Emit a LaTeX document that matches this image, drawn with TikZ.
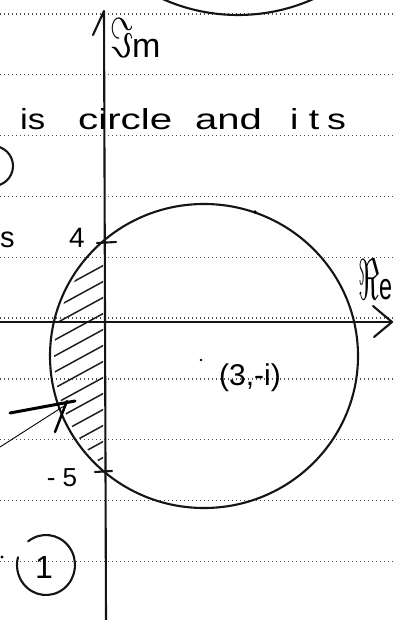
\documentclass[tikz,border=0pt]{standalone}
\usepackage{fontspec}
\setmainfont{Liberation Sans}
\usetikzlibrary{arrows.meta}
\begin{document}
\begin{tikzpicture}[x=1pt,y=-1pt,
  ink/.style={line width=2.1pt, line cap=round, line join=round, black!92},
  ruled/.style={line width=1.4pt, dash pattern=on 1.4pt off 2.6pt, black!70},
  hatch/.style={line width=1.5pt, line cap=round, black!88},
  hand/.style={inner sep=0pt, font=\fontsize{29}{30}\selectfont},
  lbl/.style={inner sep=0pt},
]
\useasboundingbox (0,0) rectangle (394,620);
\fill[white] (0,0) rectangle (394,620);
% ruled notebook lines
\foreach \k in {0,...,9} \draw[ruled] (0,{14+60.8*\k}) -- (394,{14+60.8*\k});

% partial shapes cut by the page edge
\begin{scope}
  \clip (0,0) rectangle (394,620);
  \draw[ink] (238,-170) circle[radius=185];
  \draw[ink] (-7,166) circle[radius=20];
\end{scope}

% main circle
\draw[ink] (204,356) ellipse[x radius=154, y radius=152];

% hatching
\begin{scope}
  \clip (204,356) ellipse[x radius=150, y radius=148];
  \clip (0,200) rectangle (103,500);
  \foreach \k in {0,...,12} \draw[hatch] (40,{300+16*\k}) -- (106,{264+16*\k});
\end{scope}

% axes
\coordinate (ybot) at (106,620);
\coordinate (ytop) at (104,11);
\coordinate (ybarb) at (93,35);
\draw[ink] (ybot) -- (ytop) -- (ybarb);
\coordinate (xl) at (0,322);
\coordinate (xr) at (392,322);
\coordinate (xb1) at (373,306);
\coordinate (xb2) at (374,337);
\draw[ink] (xl) -- (xr);
\draw[ink] (xb1) -- (xr) -- (xb2);

% ticks
\coordinate (t4a) at (97,243); \coordinate (t4b) at (116,242);
\coordinate (t5a) at (95,472); \coordinate (t5b) at (112,471);
\draw[ink] (t4a) -- (t4b);
\draw[ink] (t5a) -- (t5b);

% dots
\fill[black] (201,360) circle[radius=1.3];
\fill[black] (255,212) circle[radius=1.8];
\fill[black] (2,557) circle[radius=1.6];

% pointer arrow
\coordinate (p0) at (10,413);
\coordinate (p1) at (75,401);
\coordinate (p2) at (67,401);
\coordinate (p3) at (55,432);
\coordinate (q0) at (0,447);
\coordinate (q1) at (64,406);
\draw[line width=3pt, line cap=round] (p0) -- (p1);
\draw[line width=2.5pt, line cap=round] (p2) -- (p3);
\draw[line width=0.9pt] (q0) -- (q1);

% circled 1
\draw[ink] ([shift={(232:29 and 30)}]46,565) arc[start angle=232, end angle=555, x radius=29, y radius=30];
\node[lbl, font=\fontsize{32}{32}\selectfont] (one) at (44,567) {1};

% texts
\node[hand, anchor=base west] (w1) at (20,130) {\scalebox{1.2}[1]{is}};
\node[hand, anchor=base west] (w2) at (78,130) {\scalebox{1.39}[1]{circle}};
\node[hand, anchor=base west] (w3) at (195,130) {\scalebox{1.38}[1]{and}};
\node[hand, anchor=base west] (w4) at (290,130) {\scalebox{1.3}[1]{i\kern8pt t\kern6pt s}};
\node[hand, anchor=base west] (w5) at (0,247) {s};

\node[lbl, font=\fontsize{34}{34}\selectfont, anchor=base west] (im) at (110,58) {\resizebox{23pt}{39pt}{$\Im$}\kern-1pt m};
\node[lbl, font=\fontsize{30}{30}\selectfont, anchor=base west] (re) at (358,299) {\resizebox{21pt}{40pt}{$\Re$}\kern0pt\scalebox{0.78}[1.25]{e}};

\node[lbl, font=\fontsize{28}{28}\selectfont] (four) at (77,238) {4};
\node[lbl, font=\fontsize{26}{26}\selectfont] (mfive) at (62,478) {-\hspace{7pt}5};
\node[lbl, font=\fontsize{30}{30}\selectfont] (pt) at (250,378) {(3,-i)};
\end{tikzpicture}
\end{document}
